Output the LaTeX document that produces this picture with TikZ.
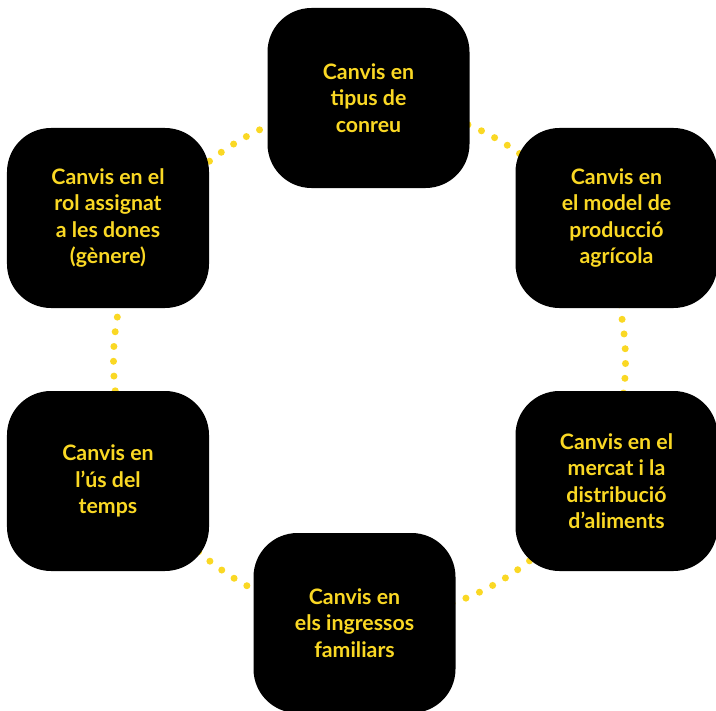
\documentclass[tikz,border=0pt]{standalone}
\usepackage{fontspec}
\setmainfont{Lato}
\usetikzlibrary{backgrounds}
\definecolor{dotyellow}{RGB}{250,216,36}
\begin{document}
\begin{tikzpicture}[x=1bp,y=-1bp,
  themebox/.style={rectangle, rounded corners=44bp, fill=black,
    minimum width=202bp, minimum height=180bp, inner sep=0pt,
    align=center, text=dotyellow,
    font=\bfseries\fontsize{21.3bp}{26.5bp}\selectfont},
  dotlink/.style={draw=dotyellow, line width=7bp, line cap=round,
    dash pattern=on 0bp off 14.8bp}]
  \useasboundingbox (0,0) rectangle (716,711);
  \clip (0,0) rectangle (716,711);

  \coordinate (hub) at (369.5,361);

  \node[themebox] (crop)   at (368.5,98)  {Canvis en\\tipus de\\conreu};
  \node[themebox] (model)  at (616.5,218) {Canvis en\\el model de\\producció\\agrícola};
  \node[themebox] (market) at (616.5,481) {Canvis en el\\mercat i la\\distribució\\d’aliments};
  \node[themebox] (income) at (354.5,623) {Canvis en\\els ingressos\\familiars};
  \node[themebox] (time)   at (108,481)   {Canvis en\\l’ús del\\temps};
  \node[themebox] (gender) at (108,218)   {Canvis en el\\rol assignat\\a les dones\\(gènere)};

  % dotted ring segments joining neighbouring boxes, drawn behind them
  \begin{scope}[on background layer]
    \draw[dotlink] ([shift={(-74:256)}]hub) arc[start angle=-74, end angle=-46, radius=256];
    \draw[dotlink] ([shift={(-16:256)}]hub) arc[start angle=-16, end angle=10, radius=256];
    \draw[dotlink] ([shift={(48:256)}]hub)  arc[start angle=48, end angle=74, radius=256];
    \draw[dotlink] ([shift={(112:256)}]hub) arc[start angle=112, end angle=135, radius=256];
    \draw[dotlink] ([shift={(170:256)}]hub) arc[start angle=170, end angle=195, radius=256];
    \draw[dotlink] ([shift={(228:256)}]hub) arc[start angle=228, end angle=250, radius=256];
  \end{scope}
\end{tikzpicture}
\end{document}
